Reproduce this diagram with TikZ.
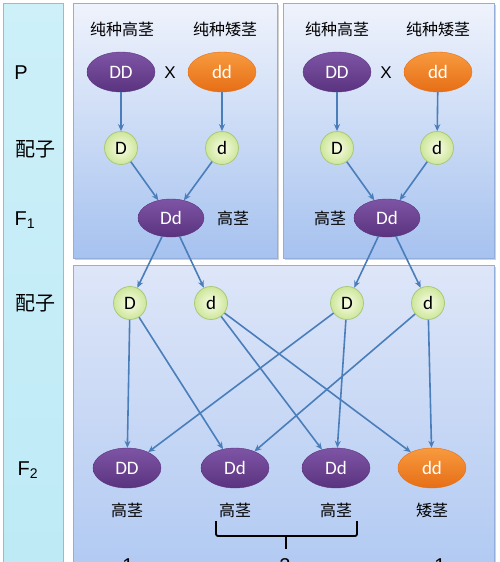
\documentclass[tikz,border=0pt]{standalone}
\usepackage{fontspec}
\setmainfont{Liberation Sans}
\newfontfamily\cjk{Noto Sans CJK SC}
\newfontfamily\calfont{Carlito}
\usetikzlibrary{arrows.meta,shapes.geometric}
\definecolor{colbg}{HTML}{CDF0F9}
\definecolor{colbg2}{HTML}{BDEAF6}
\definecolor{colbd}{HTML}{7CC8DA}
\definecolor{pantop}{HTML}{EFF3FC}
\definecolor{panbot}{HTML}{A6C2EF}
\definecolor{pan2top}{HTML}{DEE6F8}
\definecolor{pan2bot}{HTML}{B0C9F2}
\definecolor{panbd}{HTML}{93AEDB}
\definecolor{purtop}{HTML}{7E55A5}
\definecolor{purbot}{HTML}{5A337F}
\definecolor{ortop}{HTML}{F89A3E}
\definecolor{orbot}{HTML}{E66E16}
\definecolor{gin}{HTML}{FAFDE8}
\definecolor{gout}{HTML}{CDE69A}
\definecolor{gbd}{HTML}{A9C97A}
\definecolor{arr}{HTML}{4A7EBB}
\tikzset{
  cjklab/.style={font=\cjk\fontsize{16}{19}\selectfont, inner sep=0pt},
  rowlab/.style={font=\fontsize{20}{24}\selectfont, inner sep=0pt},
  rowcjk/.style={font=\cjk\fontsize{20}{24}\selectfont, inner sep=0pt},
  tall/.style={ellipse, minimum width=68pt, minimum height=40pt, inner sep=0pt,
     top color=purtop, bottom color=purbot, draw=purbot, line width=0.4pt,
     text=white, font=\calfont\fontsize{19}{22}\selectfont},
  short/.style={tall, top color=ortop, bottom color=orbot, draw=orbot},
  gam/.style={circle, minimum size=33pt, inner sep=0pt, draw=gbd, line width=0.8pt,
     inner color=gin, outer color=gout, font=\calfont\fontsize{19}{22}\selectfont},
  link/.style={draw=arr, line width=1.6pt, -{Stealth[length=7pt,width=6pt]}},
  panel/.style={draw=panbd, line width=0.8pt, top color=pantop, bottom color=panbot},
  panelb/.style={draw=panbd, line width=0.8pt, top color=pan2top, bottom color=pan2bot},
  shade0/.style={fill=black!18},
}
\begin{document}
\begin{tikzpicture}[x=1pt,y=-1pt]
\useasboundingbox (0,0) rectangle (500,562);
\clip (0,0) rectangle (500,562);
\fill[white] (0,0) rectangle (500,562);
% left column
\path[draw=colbd, line width=0.8pt, top color=colbg, bottom color=colbg2] (3,3) rectangle (63,580);
% panels with soft shadow
\path[shade0] (75,5) rectangle (279,260);
\path[shade0] (285,5) rectangle (496,260);
\path[shade0] (75,267) rectangle (496,580);
\path[panel] (73,3) rectangle (277,258);
\path[panel] (283,3) rectangle (494,258);
\path[panelb] (73,265) rectangle (494,578);

% row labels
\node[rowlab] (lP) at (21,73) {P};
\node[rowcjk] (lg1) at (35,149) {配子};
\node[rowlab] (lF1) at (25,220) {F\textsubscript{1}};
\node[rowcjk] (lg2) at (35,303) {配子};
\node[rowlab] (lF2) at (28,470) {F\textsubscript{2}};

% top-left cross
\node[cjklab] (ta) at (122,29) {纯种高茎};
\node[cjklab] (tb) at (225,29) {纯种矮茎};
\node[tall] (pA) at (121,72) {DD};
\node[rowlab, font=\fontsize{17}{20}\selectfont] (xA) at (170,73) {X};
\node[short] (pa) at (222,72) {dd};
\node[gam] (gA) at (121,148) {D};
\node[gam] (ga) at (222,148) {d};
\node[tall, minimum width=66pt, minimum height=38pt] (f1L) at (171,218) {Dd};
\node[cjklab] (hL) at (233,218) {高茎};

% top-right cross
\node[cjklab] (tc) at (337,29) {纯种高茎};
\node[cjklab] (td) at (438,29) {纯种矮茎};
\node[tall] (pB) at (337,72) {DD};
\node[rowlab, font=\fontsize{17}{20}\selectfont] (xB) at (386,73) {X};
\node[short] (pb) at (438,72) {dd};
\node[gam] (gB) at (337,148) {D};
\node[gam] (gb) at (437,148) {d};
\node[tall, minimum width=66pt, minimum height=38pt] (f1R) at (387,218) {Dd};
\node[cjklab] (hR) at (330,218) {高茎};

% F1 gametes
\node[gam] (m1) at (130,303) {D};
\node[gam] (m2) at (211,303) {d};
\node[gam] (m3) at (347,303) {D};
\node[gam] (m4) at (428,303) {d};

% F2
\node[tall] (o1) at (127,468) {DD};
\node[tall] (o2) at (235,468) {Dd};
\node[tall] (o3) at (336,468) {Dd};
\node[short] (o4) at (432,468) {dd};
\node[cjklab] (h1) at (127,510) {高茎};
\node[cjklab] (h2) at (235,510) {高茎};
\node[cjklab] (h3) at (336,510) {高茎};
\node[cjklab] (h4) at (432,510) {矮茎};

% ratio numbers (cut off by the frame, as in the reference)
\node[rowlab] (r1) at (128,566) {1};
\node[rowlab] (r2) at (285,566) {2};
\node[rowlab] (r3) at (440,566) {1};

% bracket
\coordinate (bl) at (216,521);
\coordinate (br) at (357,521);
\draw[line width=1.8pt, rounded corners=2pt] (bl) -- (216,536) -- (357,536) -- (br);
\draw[line width=1.8pt] (286,536) -- (286,549);

% arrows
\draw[link] (pA) -- (gA);
\draw[link] (pa) -- (ga);
\draw[link] (gA) -- (f1L);
\draw[link] (ga) -- (f1L);
\draw[link] (pB) -- (gB);
\draw[link] (pb) -- (gb);
\draw[link] (gB) -- (f1R);
\draw[link] (gb) -- (f1R);
\draw[link] (f1L) -- (m1);
\draw[link] (f1L) -- (m2);
\draw[link] (f1R) -- (m3);
\draw[link] (f1R) -- (m4);
\draw[link] (m1) -- (o1);
\draw[link] (m1) -- (o2);
\draw[link] (m2) -- (o3);
\draw[link] (m2) -- (o4);
\draw[link] (m3) -- (o1);
\draw[link] (m3) -- (o3);
\draw[link] (m4) -- (o2);
\draw[link] (m4) -- (o4);
\end{tikzpicture}
\end{document}
